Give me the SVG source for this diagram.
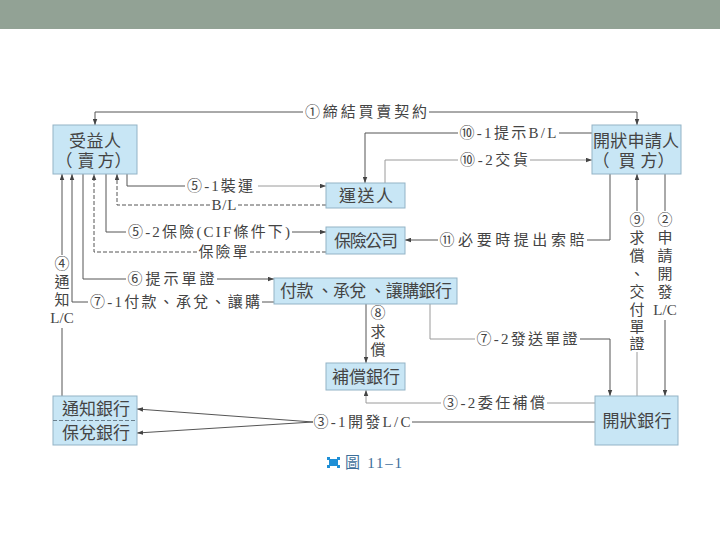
<svg xmlns="http://www.w3.org/2000/svg" width="720" height="540" viewBox="0 0 720 540">
<defs>
<style>
.box{fill:#c8e6f5;stroke:#93b3c6;stroke-width:1}
.bt{font-family:"Liberation Serif","Noto Sans CJK TC",serif;font-size:17px;fill:#444;text-anchor:middle;dominant-baseline:central}
.lt{font-family:"Liberation Serif","Noto Sans CJK TC",serif;font-size:15px;fill:#444;text-anchor:middle;dominant-baseline:central}
.ln{fill:none;stroke:#555;stroke-width:1}
.lg{fill:none;stroke:#9a9a9a;stroke-width:1}
.dl{fill:none;stroke:#555;stroke-width:1;stroke-dasharray:4 2}
</style>
<marker id="ah" viewBox="0 0 8 6" refX="8" refY="3" markerWidth="6" markerHeight="5" orient="auto" markerUnits="userSpaceOnUse">
<path d="M0,0 L8,3 L0,6 z" fill="#444"/>
</marker>
</defs>
<rect x="0" y="0" width="720" height="29" fill="#92a295"/>

<g id="connectors">
<!-- ① -->
<path class="ln" d="M303,112 H95 V125" marker-end="url(#ah)"/>
<path class="ln" d="M429,112 H637 V125" marker-end="url(#ah)"/>
<text class="lt" x="366" y="112" textLength="122">①締結買賣契約</text>
<!-- ⑩-1 -->
<path class="ln" d="M592,133 H559"/>
<path class="ln" d="M458,133 H365 V183" marker-end="url(#ah)"/>
<text class="lt" x="508" y="133" textLength="97">⑩-1提示B/L</text>
<!-- ⑩-2 -->
<path class="lg" d="M385,183 V160 H458"/>
<path class="lg" d="M530,160 H592" marker-end="url(#ah)"/>
<text class="lt" x="494" y="160" textLength="68">⑩-2交貨</text>
<!-- ⑤-1 -->
<path class="ln" d="M127,174 V186 H185"/>
<path class="lg" d="M258,186 H326" marker-end="url(#ah)"/>
<text class="lt" x="220" y="186" textLength="66">⑤-1裝運</text>
<!-- B/L -->
<path class="dl" d="M326,205 H238"/>
<path class="dl" d="M210,205 H117 V174" marker-end="url(#ah)"/>
<text class="lt" x="224" y="205" textLength="25">B/L</text>
<!-- ⑤-2 -->
<path class="ln" d="M106,174 V232 H126"/>
<path class="ln" d="M292,232 H326" marker-end="url(#ah)"/>
<text class="lt" x="209" y="232" textLength="162">⑤-2保險(CIF條件下)</text>
<!-- 保險單 -->
<path class="dl" d="M326,252 H250"/>
<path class="dl" d="M197,252 H94 V174" marker-end="url(#ah)"/>
<text class="lt" x="223" y="252" textLength="49">保險單</text>
<!-- ⑥ -->
<path class="ln" d="M83,174 V279 H126"/>
<path class="ln" d="M217,279 H274" marker-end="url(#ah)"/>
<text class="lt" x="171" y="279" textLength="87">⑥提示單證</text>
<!-- ⑦-1 -->
<path class="ln" d="M274,302 H262"/>
<path class="ln" d="M88,302 H72 V174" marker-end="url(#ah)"/>
<text class="lt" x="175" y="302" textLength="170">⑦-1付款、承兌、讓購</text>
<!-- ④ -->
<path class="ln" d="M62,396 V328"/>
<path class="ln" d="M62,255 V174" marker-end="url(#ah)"/>
<text class="lt" x="62" y="264">④</text>
<text class="lt" x="62" y="282">通</text>
<text class="lt" x="62" y="300">知</text>
<text class="lt" x="62" y="318">L/C</text>
<!-- ⑧ -->
<path class="ln" d="M366,304 V363" marker-end="url(#ah)"/>
<text class="lt" x="378" y="313">⑧</text>
<text class="lt" x="378" y="332">求</text>
<text class="lt" x="378" y="350">償</text>
<!-- ⑦-2 -->
<path class="lg" d="M430,304 V339 H475"/>
<path class="ln" d="M580,339 H610 V396" marker-end="url(#ah)"/>
<text class="lt" x="527" y="339" textLength="101">⑦-2發送單證</text>
<!-- ③-2 -->
<path class="lg" d="M595,403 H547"/>
<path class="lg" d="M441,403 H366 V390" marker-end="url(#ah)"/>
<text class="lt" x="494" y="403" textLength="102">③-2委任補償</text>
<!-- ③-1 -->
<path class="ln" d="M595,422 H412"/>
<path class="ln" d="M313,422 L137,409" marker-end="url(#ah)"/>
<path class="ln" d="M313,422 L137,433" marker-end="url(#ah)"/>
<text class="lt" x="362" y="422" textLength="97">③-1開發L/C</text>
<!-- ⑨ -->
<path class="lg" d="M637,396 V352"/>
<path class="ln" d="M637,211 V174" marker-end="url(#ah)"/>
<text class="lt" x="637" y="220">⑨</text>
<text class="lt" x="637" y="238">求</text>
<text class="lt" x="637" y="256">償</text>
<text class="lt" x="637" y="274">、</text>
<text class="lt" x="637" y="292">交</text>
<text class="lt" x="637" y="310">付</text>
<text class="lt" x="637" y="327">單</text>
<text class="lt" x="637" y="344">證</text>
<!-- ② -->
<path class="ln" d="M665,174 V211"/>
<path class="ln" d="M665,320 V396" marker-end="url(#ah)"/>
<text class="lt" x="665" y="220">②</text>
<text class="lt" x="665" y="238">申</text>
<text class="lt" x="665" y="256">請</text>
<text class="lt" x="665" y="274">開</text>
<text class="lt" x="665" y="292">發</text>
<text class="lt" x="665" y="310">L/C</text>
<!-- ⑪ -->
<path class="ln" d="M610,174 V240 H587"/>
<path class="ln" d="M438,240 H405" marker-end="url(#ah)"/>
<text class="lt" x="512" y="240" textLength="145">⑪必要時提出索賠</text>
</g>

<g id="beneficiary">
<rect class="box" x="53" y="125" width="84" height="49"/>
<text class="bt" x="95" y="141" textLength="52">受益人</text>
<text class="bt" x="64 86 106 123" y="161">（賣方）</text>
</g>
<g id="applicant">
<rect class="box" x="592" y="125" width="89" height="49"/>
<text class="bt" x="636" y="141" textLength="86">開狀申請人</text>
<text class="bt" x="601 627 649 666" y="161">（買方）</text>
</g>
<g id="carrier">
<rect class="box" x="326" y="183" width="79" height="25"/>
<text class="bt" x="366" y="196" textLength="54">運送人</text>
</g>
<g id="insurer">
<rect class="box" x="326" y="227" width="79" height="27"/>
<text class="bt" x="366" y="241" textLength="64">保險公司</text>
</g>
<g id="paying-bank">
<rect class="box" x="274" y="278" width="183" height="26"/>
<text class="bt" x="366" y="291" textLength="172">付款 、承兌 、讓購銀行</text>
</g>
<g id="reimbursing-bank">
<rect class="box" x="326" y="363" width="79" height="27"/>
<text class="bt" x="366" y="377" textLength="68">補償銀行</text>
</g>
<g id="advising-bank">
<rect class="box" x="53" y="396" width="84" height="49"/>
<line x1="53" y1="420.5" x2="137" y2="420.5" stroke="#6a7f8c" stroke-width="1" stroke-dasharray="4 2"/>
<text class="bt" x="96" y="409" textLength="68">通知銀行</text>
<text class="bt" x="96" y="433" textLength="68">保兌銀行</text>
</g>
<g id="issuing-bank">
<rect class="box" x="595" y="396" width="83" height="49"/>
<text class="bt" x="637" y="421" textLength="69">開狀銀行</text>
</g>

<g id="caption">
<rect x="329" y="459" width="9" height="7" fill="#1f8fd6"/>
<rect x="327" y="457" width="3" height="3" fill="#1f8fd6"/>
<rect x="337" y="457" width="3" height="3" fill="#1f8fd6"/>
<rect x="327" y="465" width="3" height="3" fill="#1f8fd6"/>
<rect x="337" y="465" width="3" height="3" fill="#1f8fd6"/>
<text x="345" y="468" font-family="Liberation Serif,'Noto Sans CJK TC',serif" font-size="15" fill="#3d6f9a" textLength="57">圖 11–1</text>
</g>
</svg>
